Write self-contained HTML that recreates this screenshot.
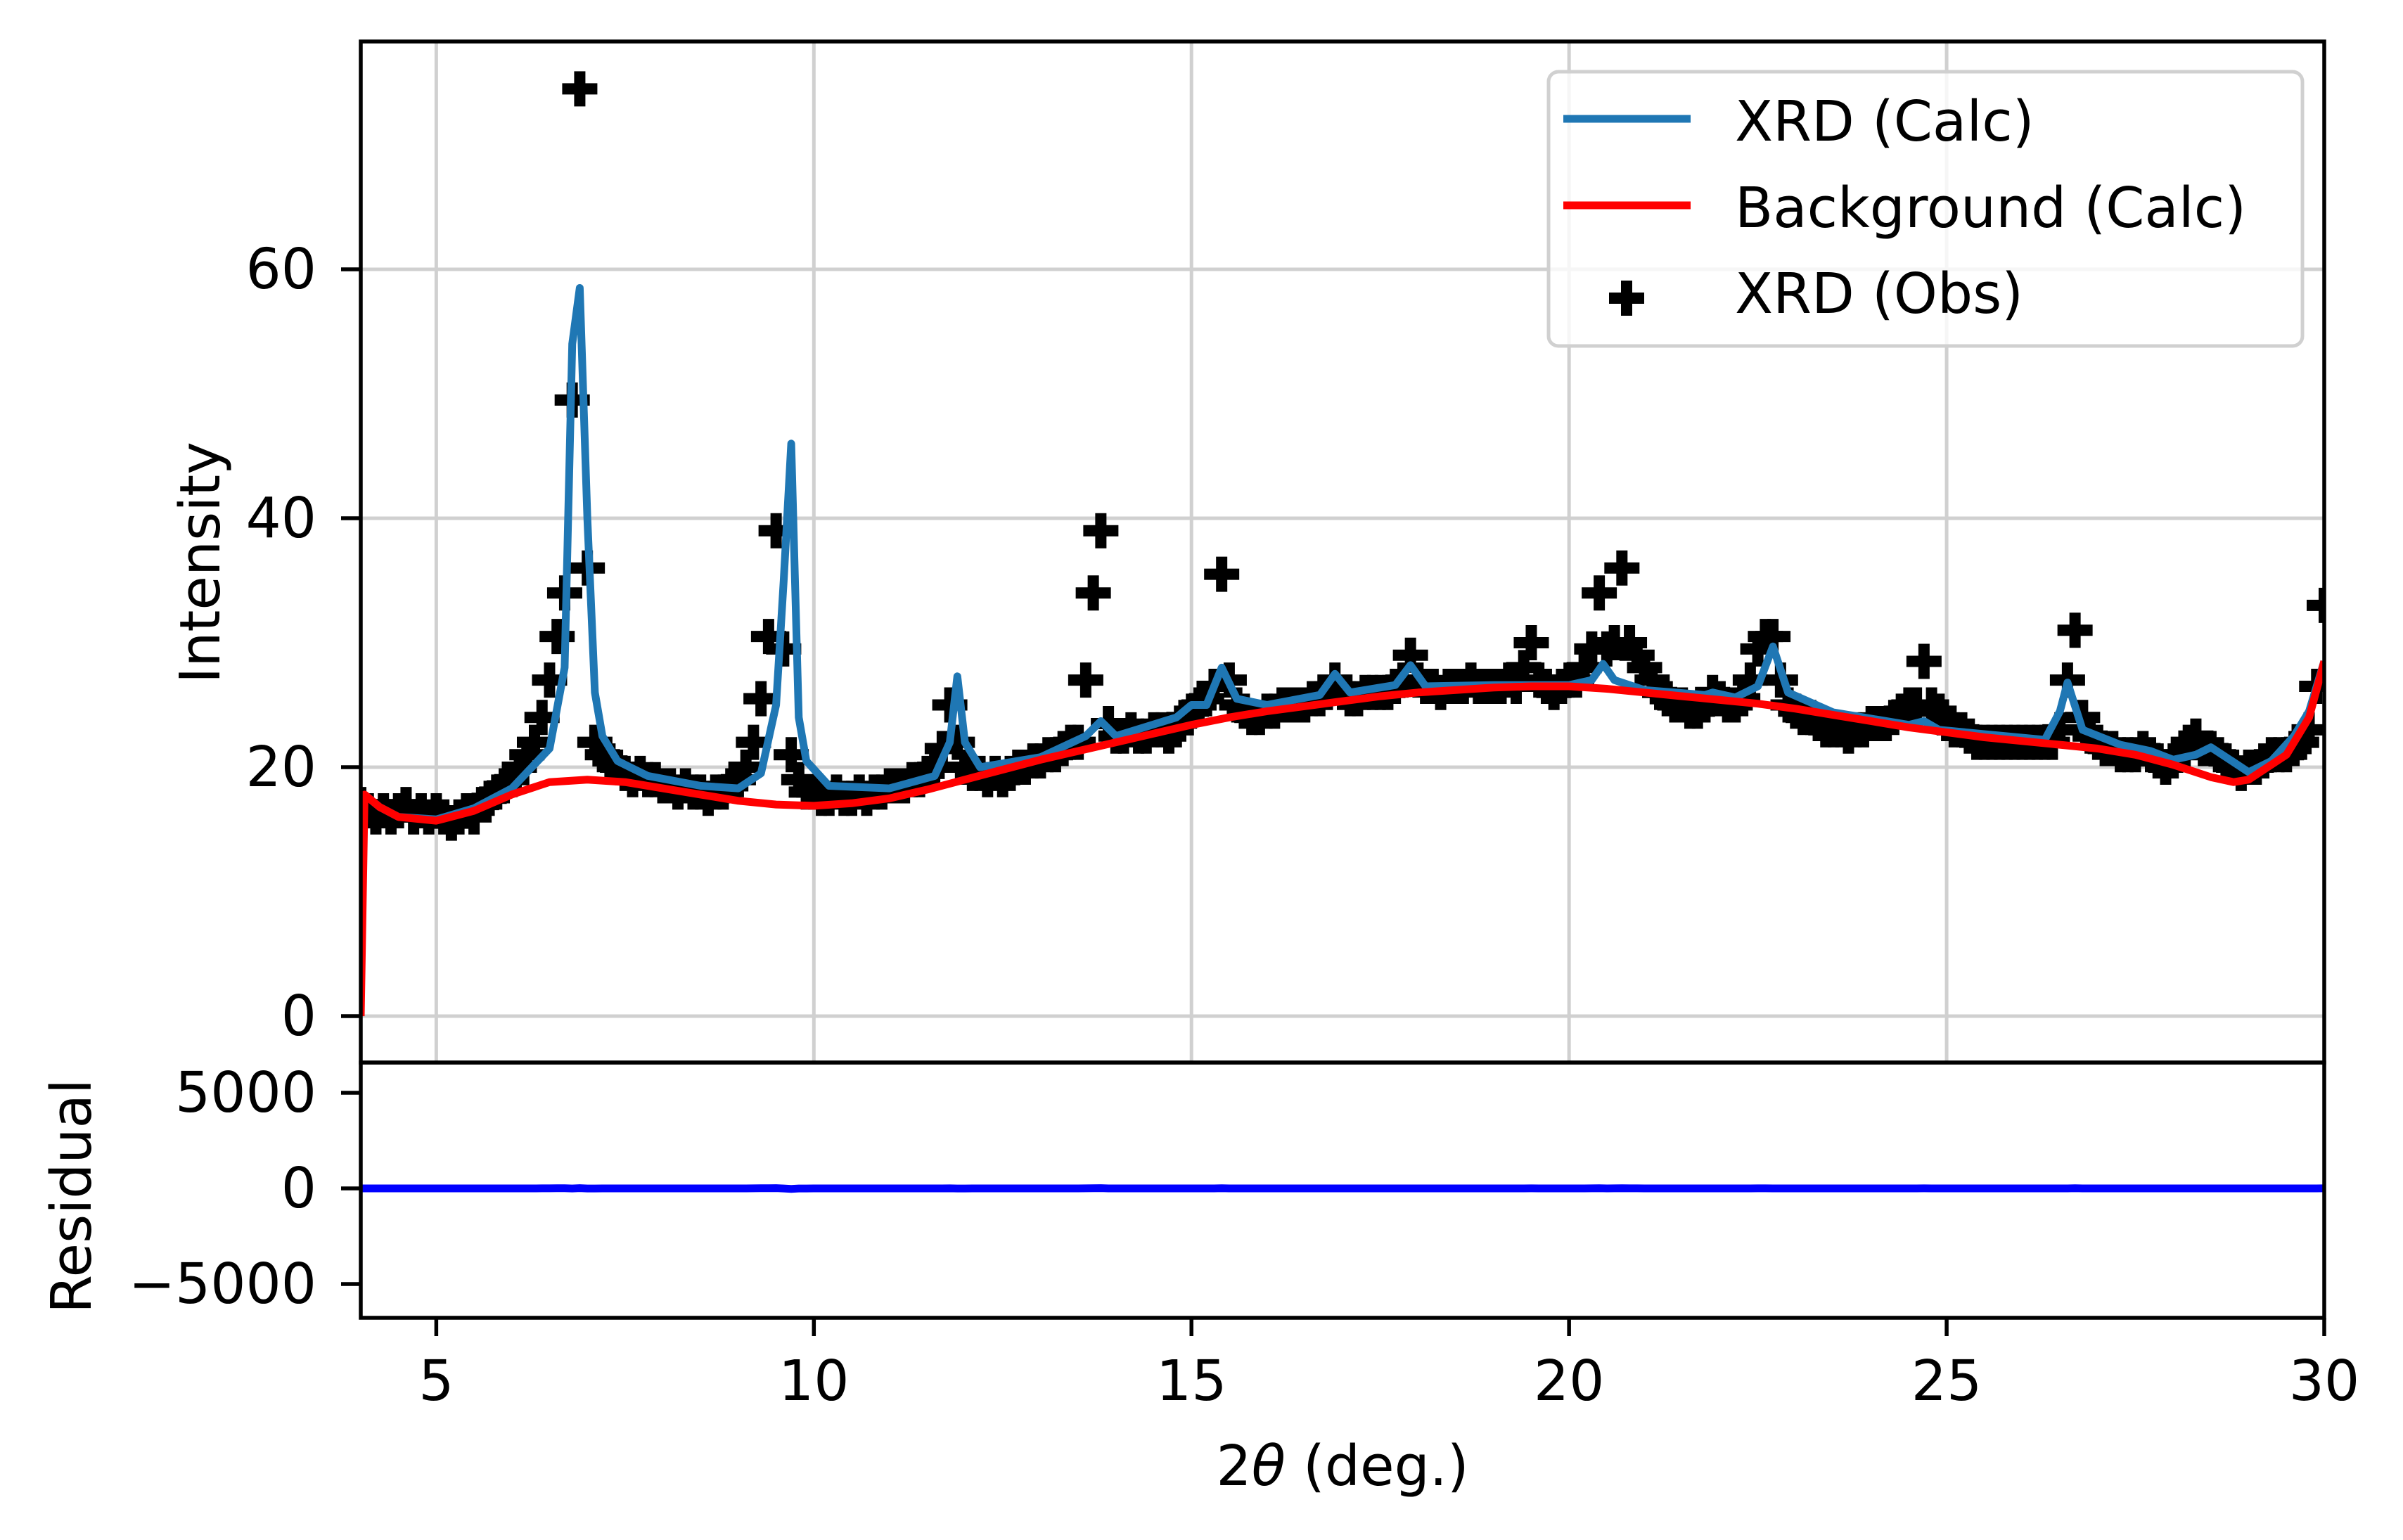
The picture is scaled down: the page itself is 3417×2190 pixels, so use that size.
<!DOCTYPE html>
<html><head><meta charset="utf-8"><style>
html,body{margin:0;padding:0;background:#fff;}
svg{display:block;font-family:"DejaVu Sans","Liberation Sans",sans-serif;}
</style></head>
<body>
<svg id="chart" width="3417" height="2190" viewBox="0 0 3417 2190" xmlns="http://www.w3.org/2000/svg">
<defs>
<clipPath id="mainClip"><rect x="513" y="59" width="2792" height="1452"/></clipPath>
<clipPath id="resClip"><rect x="513" y="1511" width="2792" height="363"/></clipPath>
</defs>
<rect x="0" y="0" width="3417" height="2190" fill="#fff"/>
<g id="grid"></g>
<g id="mainSeries" clip-path="url(#mainClip)"></g>
<g id="resSeries" clip-path="url(#resClip)"></g>
<g id="axes"></g>
<text x="285" y="800" font-size="79" text-anchor="middle" dominant-baseline="central" transform="rotate(-90 285 800)">Intensity</text>
<text x="102" y="1701" font-size="79" text-anchor="middle" dominant-baseline="central" transform="rotate(-90 102 1701)">Residual</text>
<text x="1909" y="2112" font-size="79" text-anchor="middle">2<tspan font-style="italic">θ</tspan> (deg.)</text>
<g>
<rect x="2202" y="102" width="1072" height="390" rx="14" fill="#fff" fill-opacity="0.8" stroke="#d0d0d0" stroke-width="5"/>
<line x1="2223" y1="169" x2="2404" y2="169" stroke="#1f77b4" stroke-width="11"/>
<text x="2467" y="200" font-size="79">XRD (Calc)</text>
<line x1="2223" y1="292" x2="2404" y2="292" stroke="#ff0000" stroke-width="11"/>
<text x="2467" y="323" font-size="79">Background (Calc)</text>
<path d="M2305 399 h16 v17 h17 v16 h-17 v17 h-16 v-17 h-17 v-16 h17 z" fill="#000"/>
<text x="2467" y="445" font-size="79">XRD (Obs)</text>
</g>
</svg>
<script>
const obsStart = 4.0;
const obsStep = 0.1;
const obsY = [
17,16.5,16,16.5,16,16.5,17,16,16.5,16,16.5,
16,15.5,16,16.5,16,17,17.5,18,18.5,19,
20,21,22,24,27,30.5,34,49.5,74.5,36,
22,21,20.5,20,19.5,19,19.5,19,19,18.5,
18.5,18,18.5,18,18,17.5,18,18,18.5,19,
20,22,25.5,30.5,39,29.5,21,19,18,18,
17.5,17.5,18,17.5,17.5,18,17.5,18,18,18.5,
18.5,18.5,19,19,19.5,20,21.5,25,22,20,
19.5,19.5,19,19.5,19,19.5,20,20,20.5,20.5,
21,21,21.5,22,22,27,34,39,23.5,22.5,
22.5,23,22.5,22.5,23,23,22.5,23,24,24.5,
25,25.5,26.5,35.5,27,25,24.5,24,24,24.5,
24.5,25,25,25,25,25.5,25.5,26,27,26,
25.5,25.5,26,26,26,26,26.5,27,29,27,
26.5,26.5,26,26.5,26.5,26.5,27,26.5,26.5,26.5,
26.5,27,26.5,28,30,27,26.5,26,26.5,27,
27,28,29.5,34,29.5,30,36,30,29,28,
27,26,25.5,25,25,24.5,24.5,25,26,25.5,
25,25,25.5,27,29.5,30.5,30.5,27,25,24.5,
24,24,23.5,23,23,23,22.5,23,23,23.5,
23.5,23.5,24,24.5,25,25,28.5,25,24.5,23.5,
23,23,22.5,22,22,22,22,22,22,22,
22,22,22,22,23,27,31,24,22.5,22,
21.5,21.5,21,21,21,21.5,21,20.5,20,20.5,
21,22,22.5,21.5,21.5,21,20.5,20,19.5,20,
20,20.5,21,21,21,21.5,22,23,26.5,33
];
const calcX = [4.05,4.25,4.5,5,5.5,6.0,6.5,6.7,6.8,6.9,7.0,7.1,7.2,7.4,7.8,8.5,9.0,9.3,9.5,9.6,9.7,9.8,9.9,10.2,11,11.6,11.8,11.9,12.0,12.2,13.0,13.6,13.8,14.0,14.8,15.0,15.2,15.4,15.6,16.0,16.7,16.9,17.1,17.7,17.9,18.1,19,20,20.3,20.45,20.6,21,21.8,21.9,22.2,22.5,22.7,22.9,23.5,24.5,24.7,24.9,26.3,26.5,26.6,26.8,27.3,27.7,28.0,28.3,28.5,28.7,29.0,29.3,29.6,29.8,30];
const calcY = [17.8,16.8,16.0,15.8,16.7,18.3,21.5,28,54,58.5,40,26,22.5,20.5,19.3,18.5,18.3,19.5,25,35,46,24,20.5,18.5,18.3,19.3,22,27.3,22,20,20.8,22.5,23.7,22.5,24,25,25,28,25.5,25,25.8,27.5,26,26.6,28.2,26.5,26.6,26.6,27,28.3,27,26.2,25.8,26,25.6,26.5,29.7,26,24.4,23.4,23.7,23,22.2,24.5,26.8,23,21.8,21.3,20.6,21,21.6,20.8,19.6,20.5,22.5,24.5,28.5];
const bgX = [4.0,4.05,4.25,4.5,5,5.5,6,6.5,7,7.5,8,8.5,9,9.5,10,10.5,11,11.5,12,12.5,13,13.5,14,14.5,15,15.5,16,16.5,17,17.5,18,18.5,19,19.5,20,20.5,21,21.5,22,22.5,23,23.5,24,24.5,25,25.5,26,26.5,27,27.5,28,28.5,28.8,29,29.5,29.8,30];
const bgY = [0,17.8,16.8,16.0,15.7,16.5,17.8,18.8,19.0,18.8,18.3,17.8,17.3,17.0,16.9,17.1,17.5,18.2,19.0,19.8,20.6,21.3,22.0,22.7,23.4,24.0,24.5,24.9,25.3,25.7,26.0,26.2,26.4,26.5,26.5,26.3,26.0,25.7,25.4,25.1,24.7,24.2,23.7,23.2,22.8,22.4,22.1,21.8,21.5,21.0,20.2,19.2,18.8,19.0,21.0,24.0,28.5];
const xTicks = [5,10,15,20,25,30];
const yTicks = [0,20,40,60];
const resTicks = [5000,0,-5000];
const resTickLabels = ["5000","0","\u22125000"];

const NS = "http://www.w3.org/2000/svg";
function X(v){return 513 + (v-4)*(3305-513)/26;}
function Y(v){return 1445 - v*17.7;}
function R(v){return 1690 - v*136/5000;}
function mk(tag, attrs, parent){const e=document.createElementNS(NS,tag);for(const k in attrs)e.setAttribute(k,attrs[k]);parent.appendChild(e);return e;}
function interp(xs, ys, x){
  if(x<=xs[0])return ys[0];
  for(let i=1;i<xs.length;i++){if(x<=xs[i]){const t=(x-xs[i-1])/(xs[i]-xs[i-1]);return ys[i-1]+t*(ys[i]-ys[i-1]);}}
  return ys[ys.length-1];
}
const grid=document.getElementById('grid');
const main=document.getElementById('mainSeries');
const res=document.getElementById('resSeries');
const axes=document.getElementById('axes');

xTicks.forEach(t=>{
  const g=mk('line',{x1:X(t),x2:X(t),y1:59,y2:1511,stroke:'#d0d0d0','stroke-width':5},grid);
  
  
});
yTicks.forEach(t=>{
  const g=mk('line',{x1:513,x2:3305,y1:Y(t),y2:Y(t),stroke:'#d0d0d0','stroke-width':5},grid);
  
  
});

// observed markers
obsY.forEach((v,i)=>{
  const cx=X(obsStart+i*obsStep), cy=Y(v);
  const p=mk('path',{d:`M${cx-8} ${cy-25} h16 v17 h17 v16 h-17 v17 h-16 v-17 h-17 v-16 h17 z`,fill:'#000'},main);
  
  
});
// calc line
let d='';calcX.forEach((x,i)=>{d+=(i?'L':'M')+X(x).toFixed(1)+' '+Y(calcY[i]).toFixed(1);});
const calc=mk('path',{d:d,fill:'none',stroke:'#1f77b4','stroke-width':11,'stroke-linejoin':'round'},main);


// background line
d='';bgX.forEach((x,i)=>{d+=(i?'L':'M')+X(x).toFixed(1)+' '+Y(bgY[i]).toFixed(1);});
const bg=mk('path',{d:d,fill:'none',stroke:'#ff0000','stroke-width':11,'stroke-linejoin':'round'},main);


// residual line
d='';obsY.forEach((v,i)=>{const x=obsStart+i*obsStep;const r=v-interp(calcX,calcY,x);d+=(i?'L':'M')+X(x).toFixed(1)+' '+R(r).toFixed(1);});
const rl=mk('path',{d:d,fill:'none',stroke:'#0000ff','stroke-width':11},res);



// spines
const f1=mk('rect',{x:513,y:59,width:2792,height:1452,fill:'none',stroke:'#000','stroke-width':5.5},axes);


const f2=mk('rect',{x:513,y:1511,width:2792,height:363,fill:'none',stroke:'#000','stroke-width':5.5},axes);



yTicks.forEach(t=>{
  const tk=mk('line',{x1:485,x2:513,y1:Y(t),y2:Y(t),stroke:'#000','stroke-width':5.5},axes);
  
  
  const tl=mk('text',{x:450,y:Y(t),'font-size':79,'text-anchor':'end','dominant-baseline':'central'},axes);
  tl.textContent=String(t);
  
  
});
resTicks.forEach((t,i)=>{
  const tk=mk('line',{x1:485,x2:513,y1:R(t),y2:R(t),stroke:'#000','stroke-width':5.5},axes);
  
  
  const tl=mk('text',{x:450,y:R(t),'font-size':79,'text-anchor':'end','dominant-baseline':'central'},axes);
  tl.textContent=resTickLabels[i];
  
  
});
xTicks.forEach(t=>{
  const tk=mk('line',{x1:X(t),x2:X(t),y1:1874,y2:1900,stroke:'#000','stroke-width':5.5},axes);
  
  
  const tl=mk('text',{x:X(t),y:1991,'font-size':79,'text-anchor':'middle'},axes);
  tl.textContent=String(t);
  
  
});
</script>
</body></html>
